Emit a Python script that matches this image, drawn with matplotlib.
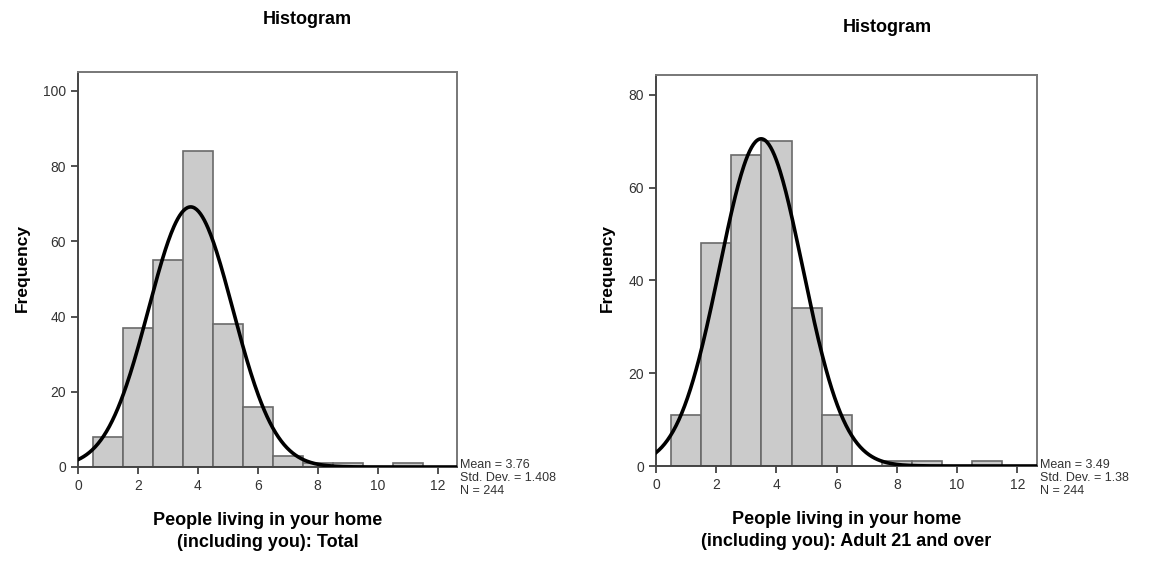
import numpy as np
import matplotlib.pyplot as plt

plt.rcParams["font.family"] = ["Liberation Sans", "DejaVu Sans"]

# household size bins (centre values) and counts
sizes = [1, 2, 3, 4, 5, 6, 7, 8, 9, 10, 11]
total_counts = [8, 37, 55, 84, 38, 16, 3, 1, 1, 0, 1]
adult_counts = [11, 48, 67, 70, 34, 11, 0, 1, 1, 0, 1]

total_stats = (3.76, 1.408, 244)
adult_stats = (3.49, 1.38, 244)
stat_labels = ["Mean = 3.76\nStd. Dev. = 1.408\nN = 244",
               "Mean = 3.49\nStd. Dev. = 1.38\nN = 244"]
x_labels = ["People living in your home\n(including you): Total",
            "People living in your home\n(including you): Adult 21 and over"]

fig = plt.figure(figsize=(11.59, 5.63), dpi=100)
W, H = 1159, 563

panels = [
    # left, top, right, bottom (pixels), ymax, yticks
    ((78, 72, 457, 467), 105, [0, 20, 40, 60, 80, 100], total_counts, total_stats),
    ((656, 75, 1037, 466), 84.3, [0, 20, 40, 60, 80], adult_counts, adult_stats),
]
title_pos = [(307, 19), (887, 28)]
ylab_x = [22, 607]

for i, (box, ymax, yticks, counts, stats) in enumerate(panels):
    l, t, r, b = box
    ax = fig.add_axes([l / W, 1 - b / H, (r - l) / W, (b - t) / H])
    ax.bar(sizes, counts, width=1.0, color="#cbcbcb", edgecolor="#6a6a6a",
           linewidth=1.2, zorder=2)

    # fitted normal curve scaled to counts (bin width 1)
    mean, sd, n = stats
    xs = np.linspace(0, 12.65, 400)
    ys = n / (sd * np.sqrt(2 * np.pi)) * np.exp(-0.5 * ((xs - mean) / sd) ** 2)
    ax.plot(xs, ys, color="black", linewidth=2.6, zorder=3)

    ax.set_xlim(0, 12.65)
    ax.set_ylim(0, ymax)
    ax.set_xticks([0, 2, 4, 6, 8, 10, 12])
    ax.set_yticks(yticks)
    ax.tick_params(labelsize=10, colors="#333333", length=5, width=1.2)
    for s in ax.spines.values():
        s.set_color("#777777")
        s.set_linewidth(1.4)
    ax.spines["left"].set_color("#444444")
    ax.spines["bottom"].set_color("#444444")

    ax.set_xlabel(x_labels[i], fontsize=13, fontweight="bold", labelpad=14,
                  linespacing=1.4)
    fig.text(ylab_x[i] / W, 1 - 268 / H, "Frequency", rotation=90,
             fontsize=12.5, fontweight="bold", ha="center", va="center")
    fig.text(title_pos[i][0] / W, 1 - title_pos[i][1] / H, "Histogram",
             fontsize=13, fontweight="bold", ha="center", va="center")
    fig.text((r + 3) / W, 1 - 459 / H, stat_labels[i], fontsize=9,
             color="#333333", ha="left", va="top", linespacing=1.1)

fig.savefig("out.png", dpi=100)
